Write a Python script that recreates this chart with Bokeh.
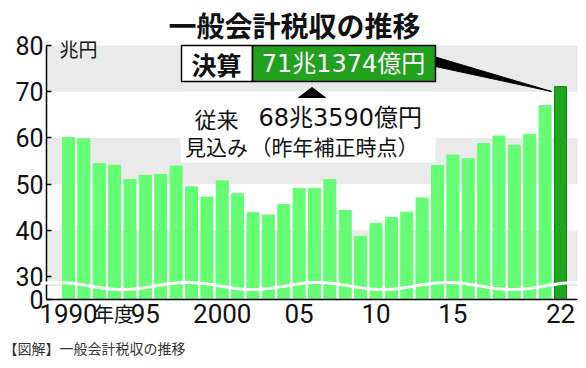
import numpy as np
from bokeh.plotting import figure
from bokeh.models import FixedTicker, Label, Range1d, LinearAxis
from bokeh.embed import file_html
from bokeh.resources import INLINE

# ---------------- data ----------------
years = list(range(1990, 2023))
revenue = [60.1, 59.8, 54.4, 54.1, 51.0, 51.9, 52.1, 53.9, 49.4, 47.2,
           50.7, 47.9, 43.8, 43.3, 45.6, 49.1, 49.1, 51.0, 44.3, 38.7,
           41.5, 42.8, 43.9, 47.0, 54.0, 56.3, 55.5, 58.8, 60.4, 58.4,
           60.8, 67.0, 71.1]
x_ticks = [1990, 1995, 2000, 2005, 2010, 2015, 2022]
x_labels = ["1990", "95", "2000", "05", "10", "15", "22"]
y_ticks = [30, 40, 50, 60, 70, 80]
y_labels = ["30", "40", "50", "60", "70", "80"]
zero_label = "0"
title_text = "一般会計税収の推移"
unit_text = "兆円"
year_suffix = "年度"
settled_head = "決算"
settled_value = "71兆1374億円"
prior_head_1 = "従来"
prior_head_2 = "見込み"
prior_value = "68兆3590億円"
prior_note = "（昨年補正時点）"
footnote = "【図解】一般会計税収の推移"

# ---------------- geometry helpers (canvas pixels -> data) ----------------
W, H = 586, 368
PX_X = 15.375
PX_Y = 4.62
def X(px):
    return 1990 + (px - 68) / PX_X
def Y(py):
    return 80 - (py - 45) / PX_Y

base = Y(299)          # where the (broken) axis shows 0
x_left, x_right = X(46), X(577)

FONT = "Noto Sans CJK JP"
NUMFONT = "Roboto, Noto Sans CJK JP"
WIDEFONT = "DejaVu Sans, Noto Sans CJK JP"

p = figure(width=W, height=H, output_backend="svg", toolbar_location=None,
           x_range=Range1d(X(0), X(W)), y_range=Range1d(Y(H), Y(0)),
           title=None, x_axis_location=None, y_axis_location=None)
p.min_border = 0
p.min_border_left = 0
p.min_border_right = 0
p.min_border_top = 0
p.min_border_bottom = 0
p.outline_line_color = None
p.background_fill_color = "white"
p.border_fill_color = "white"
p.grid.visible = False

# gray bands
band_bottoms = [70, 50, Y(285.5)]
band_tops = [80, 60, 40]
p.quad(left=x_left, right=x_right, bottom=band_bottoms, top=band_tops,
       fill_color="#eaeaea", line_color=None)

# white box behind the annotation
p.quad(left=X(180), right=X(435), bottom=Y(162), top=70,
       fill_color="white", line_color=None)

# bars
colors = ["#64fd74"] * (len(years) - 1) + ["#1fa61f"]
lines = ["#64fd74"] * (len(years) - 1) + ["#0f820f"]
p.vbar(x=years, top=revenue, bottom=base, width=0.78,
       fill_color=colors, line_color=lines, line_width=1)

# banner boxes
p.quad(left=X(181), right=X(252), bottom=Y(81), top=Y(45),
       fill_color="white", line_color="black", line_width=1.5)
p.quad(left=X(252), right=X(435), bottom=Y(81), top=Y(45),
       fill_color="#22a01e", line_color="black", line_width=1.5)
# wedge to the last bar
p.patch([X(435), X(435), X(551)], [Y(56.5), Y(66), Y(91)],
        fill_color="black", line_color="black", line_width=1)
# small pointer triangle
p.patch([X(298), X(325), X(311.5)], [Y(97), Y(97), Y(87)],
        fill_color="black", line_color="black")

# axes
yaxis = LinearAxis(fixed_location=x_left, bounds=(base, 80))
yaxis.ticker = FixedTicker(ticks=[base] + y_ticks)
yaxis.major_label_overrides = {base: zero_label, **{t: l for t, l in zip(y_ticks, y_labels)}}
yaxis.major_tick_in = 5
yaxis.major_tick_out = 0
yaxis.minor_tick_in = 0
yaxis.minor_tick_out = 0
yaxis.axis_line_color = "black"
yaxis.axis_line_width = 1.5
yaxis.major_tick_line_color = "black"
yaxis.major_tick_line_width = 1.5
yaxis.major_label_standoff = 3
yaxis.major_label_text_font = NUMFONT
yaxis.major_label_text_font_size = "25px"
yaxis.major_label_text_color = "#111111"
p.add_layout(yaxis, "left")

xaxis = LinearAxis(fixed_location=base, bounds=(x_left, x_right))
xaxis.ticker = FixedTicker(ticks=x_ticks)
xaxis.major_label_overrides = {t: l for t, l in zip(x_ticks, x_labels)}
xaxis.major_tick_in = 0
xaxis.major_tick_out = 0
xaxis.minor_tick_in = 0
xaxis.minor_tick_out = 0
xaxis.axis_line_color = "black"
xaxis.axis_line_width = 1.5
xaxis.major_label_standoff = 4
xaxis.major_label_text_font = NUMFONT
xaxis.major_label_text_font_size = "26px"
xaxis.major_label_text_color = "#111111"
p.add_layout(xaxis, "below")

# wave break (drawn over the axis)
wx = np.linspace(X(40), x_right, 400)
crest = X(57)
period = 130 / PX_X
amp = 3.5 / PX_Y
wy = Y(285.5) + amp * np.cos(2 * np.pi * (wx - crest) / period)
p.line(wx, wy, line_color="white", line_width=3, level="overlay")

def add_label(text, px, py, size, align="center", color="#111111", bold=False, font=FONT):
    p.add_layout(Label(x=X(px), y=Y(py), text=text, text_align=align,
                       text_baseline="middle", text_font=font,
                       text_font_size=f"{size}px", text_color=color,
                       text_font_style="bold" if bold else "normal"))

add_label(title_text, 294, 24, 28, bold=True)
add_label(unit_text, 59, 48, 19, align="left")
add_label(year_suffix, 113.5, 313, 20)
add_label(settled_head, 216, 63, 25, bold=True)
add_label(settled_value, 343, 63, 24, color="white", font=WIDEFONT)
add_label(prior_head_1, 216, 117, 22)
add_label(prior_head_2, 216, 145, 21)
add_label(prior_value, 258, 117, 24, align="left", font=WIDEFONT)
add_label(prior_note, 250, 145, 21, align="left")
add_label(footnote, 3, 347, 14, align="left", color="#333333")

open("out.html", "w").write(file_html(p, INLINE))
